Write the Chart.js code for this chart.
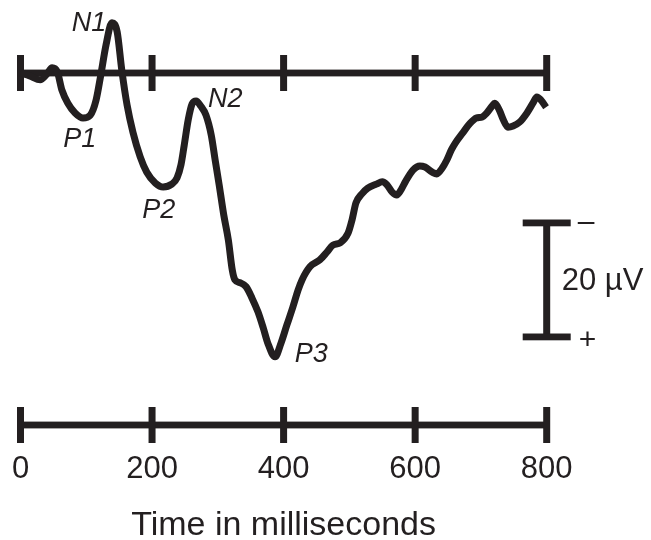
<!DOCTYPE html>
<html>
<head>
<meta charset="utf-8">
<script src="https://cdn.jsdelivr.net/npm/chart.js@4.4.1/dist/chart.umd.min.js"></script>
<style>
  html, body { margin: 0; padding: 0; background: #fff; }
  #wrap { width: 651px; height: 540px; }
</style>
</head>
<body>
<div id="wrap"><canvas id="erp"></canvas></div>
<script>
// tempo (ms) e amplitude (µV, positivo para baixo)
const tempo = [0, 14, 30, 40, 48, 56, 63, 72, 83, 95, 106, 115, 122, 130, 139, 147, 154, 162, 171, 182, 192, 205, 217, 230, 238, 244, 249, 255, 261, 267, 274, 282, 290, 296, 302, 309, 316, 322, 326, 334, 343, 352, 361, 369, 376, 387, 396, 405, 414, 422, 428, 440, 455, 466, 475, 486, 498, 504, 510, 519, 528, 541, 550, 557, 565, 572, 579, 585, 597, 607, 615, 626, 633, 641, 648, 655, 661, 673, 683, 693, 702, 709, 717, 721, 728, 734, 741, 749, 759, 770, 779, 785, 791, 799];
const amplitude = [0, 0.5, 1.2, 0.2, -0.9, -0.2, 3.0, 5.3, 7.0, 7.9, 7.4, 4.7, 0.4, -4.9, -8.8, -7.2, -0.5, 5.6, 10.4, 14.7, 17.4, 19.3, 20.0, 19.5, 18.4, 16.1, 12.6, 8.2, 5.4, 4.9, 5.8, 7.4, 10.9, 15.3, 19.6, 24.9, 29.3, 34.6, 36.3, 36.8, 37.5, 39.5, 41.9, 44.7, 47.4, 49.8, 47.4, 44.2, 41.1, 38.1, 36.3, 34.0, 32.8, 31.4, 30.2, 29.8, 28.1, 25.8, 22.8, 21.2, 20.2, 19.5, 19.1, 19.6, 20.9, 21.4, 20.4, 19.1, 17.0, 16.3, 16.5, 17.4, 17.7, 16.7, 15.3, 13.5, 12.3, 10.4, 8.9, 7.9, 7.7, 7.0, 5.8, 5.3, 6.5, 8.2, 9.5, 9.3, 8.6, 7.0, 5.3, 4.2, 4.7, 6.0];

const ticks = [0, 200, 400, 600, 800];
const tickLabels = ["0", "200", "400", "600", "800"];
const tituloX = "Time in milliseconds";

// rótulos dos picos: [texto, ms, µV]
const picos = [
  ["N1", 78, -7.3],
  ["P1", 65, 13.0],
  ["N2", 285, 6.0],
  ["P2", 185, 25.4],
  ["P3", 417, 50.7]
];

// barra de escala
const escalaTempo = 800;
const escalaInicio = 26.3;
const escalaTamanho = 20;
const escalaTexto = "20 µV";

const cor = "#231f20";
const fonte = "'Liberation Sans', Arial, Helvetica, sans-serif";

const eixos = {
  id: "eixos",
  beforeDatasetsDraw(chart) {
    const ctx = chart.ctx;
    const x = chart.scales.x;
    const y = chart.scales.y;
    const x0 = x.getPixelForValue(0);
    const x1 = x.getPixelForValue(800);

    function regua(py) {
      ctx.fillRect(x0, py - 3.4, x1 - x0, 6.8);
      ticks.forEach(function (t) {
        const px = x.getPixelForValue(t);
        ctx.fillRect(px - 3.5, py - 18, 7, 36);
      });
    }

    ctx.save();
    ctx.fillStyle = cor;
    regua(y.getPixelForValue(0));
    const yBaixo = 425;
    regua(yBaixo);

    // barra de escala
    const sx = x.getPixelForValue(escalaTempo);
    const sTop = y.getPixelForValue(escalaInicio);
    const sBot = y.getPixelForValue(escalaInicio + escalaTamanho);
    ctx.fillRect(sx - 3.5, sTop, 7, sBot - sTop);
    ctx.fillRect(sx - 24, sTop - 3.4, 48, 6.8);
    ctx.fillRect(sx - 24, sBot - 3.4, 48, 6.8);

    // textos
    ctx.textBaseline = "alphabetic";
    ctx.font = "31px " + fonte;
    ctx.textAlign = "center";
    ticks.forEach(function (t, i) {
      ctx.fillText(tickLabels[i], x.getPixelForValue(t), 478);
    });
    ctx.font = "34px " + fonte;
    ctx.fillText(tituloX, x.getPixelForValue(400), 535);

    ctx.textAlign = "left";
    ctx.font = "31px " + fonte;
    ctx.fillText(escalaTexto, sx + 15, 290);
    ctx.font = "30px " + fonte;
    ctx.fillText("–", sx + 31, sTop + 8);
    ctx.fillText("+", sx + 32, sBot + 12);

    ctx.font = "italic 27px " + fonte;
    picos.forEach(function (p) {
      ctx.fillText(p[0], x.getPixelForValue(p[1]), y.getPixelForValue(p[2]));
    });
    ctx.restore();
  }
};

new Chart(document.getElementById("erp"), {
  type: "line",
  data: {
    labels: tempo,
    datasets: [{
      data: tempo.map(function (t, i) { return { x: t, y: amplitude[i] }; }),
      borderColor: cor,
      borderWidth: 7,
      pointRadius: 0,
      cubicInterpolationMode: "monotone",
      borderJoinStyle: "round",
      clip: false
    }]
  },
  options: {
    responsive: true,
    maintainAspectRatio: false,
    animation: false,
    layout: { padding: { left: 20.5, right: 104.3, top: 16, bottom: 11 } },
    plugins: { legend: { display: false }, tooltip: { enabled: false } },
    scales: {
      x: { type: "linear", min: 0, max: 800, display: false },
      y: { min: -10, max: 80, reverse: true, display: false }
    }
  },
  plugins: [eixos]
});
</script>
</body>
</html>
